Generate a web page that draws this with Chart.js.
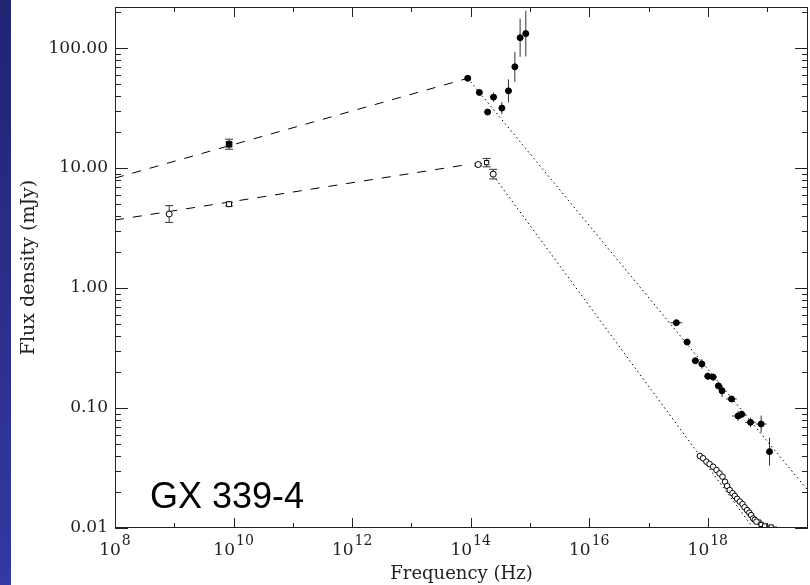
<!DOCTYPE html>
<html>
<head>
<meta charset="utf-8">
<script src="https://cdn.jsdelivr.net/npm/chart.js@4.4.0/dist/chart.umd.min.js"></script>
<style>
  html, body { margin: 0; padding: 0; background: #fff; }
  #wrap { position: relative; width: 810px; height: 585px; }
  #band { position: absolute; left: 0; top: 0; width: 11px; height: 585px; background: linear-gradient(#1f2473, #3439a3); }
  canvas { position: absolute; left: 0; top: 0; }
</style>
</head>
<body>
<div id="wrap"><canvas id="sed" width="810" height="585"></canvas><div id="band"></div></div>
<script>
// tick values
const yTicks = [0.01, 0.1, 1, 10, 100];
const xMajorExp = [8, 10, 12, 14, 16, 18];
const xMinorExp = [9, 11, 13, 15, 17, 19];

// radio, bright state (filled square)
const radioAFreq = [8.4e9];
const radioAFlux = [15.8];
const radioAErr = [0.042];

// radio, faint state (open circle / open square)
const radioBFreq = [8.2e8, 8.4e9];
const radioBFlux = [4.14, 5.0];
const radioBErr = [0.07, 0.015];

// IR / optical, bright state
const optAFreq = [8.91e13, 1.40e14, 1.93e14, 2.43e14, 3.36e14, 4.34e14, 5.56e14, 6.82e14, 8.51e14];
const optAFlux = [56, 42.7, 29.3, 39, 31.6, 44, 69.8, 122, 132];
const optAErr = [0.015, 0.015, 0.015, 0.038, 0.05, 0.096, 0.125, 0.16, 0.19];

// IR / optical, faint state
const optBFreq = [1.34e14, 1.86e14, 2.40e14];
const optBFlux = [10.7, 11.1, 8.9];
const optBErr = [0.01, 0.035, 0.04];

// X-ray, bright state (errors in dex)
const xrayAFreq = [2.95e17, 4.47e17, 6.17e17, 7.94e17, 1.0e18, 1.23e18, 1.51e18, 1.74e18, 2.51e18, 3.24e18, 3.72e18, 5.25e18, 7.94e18, 1.10e19];
const xrayAFlux = [0.514, 0.355, 0.248, 0.233, 0.184, 0.181, 0.153, 0.139, 0.119, 0.0858, 0.0887, 0.076, 0.0736, 0.0433];
const xrayAFreqErr = [0.10, 0.06, 0.06, 0.05, 0.06, 0.06, 0.05, 0.05, 0.09, 0.10, 0.08, 0.09, 0.09, 0.04];
const xrayAFluxErr = [0.02, 0.02, 0.02, 0.04, 0.03, 0.03, 0.03, 0.05, 0.02, 0.04, 0.03, 0.04, 0.07, 0.117];

// X-ray, faint state
const xrayBFreq = [7.33e17, 8.32e17, 9.48e17, 1.07e18, 1.23e18, 1.40e18, 1.58e18, 1.77e18, 1.95e18, 2.12e18, 2.34e18, 2.61e18, 2.85e18, 3.12e18, 3.47e18, 3.85e18, 4.17e18, 4.60e18, 5.01e18, 5.37e18, 5.82e18, 6.21e18, 6.61e18];
const xrayBFlux = [0.0398, 0.0381, 0.0357, 0.0341, 0.0324, 0.0304, 0.0285, 0.0268, 0.0243, 0.0224, 0.0207, 0.0195, 0.0185, 0.0175, 0.0166, 0.0158, 0.0149, 0.0141, 0.0134, 0.0128, 0.0120, 0.0117, 0.0113];
const xrayCFreq = [7.24e18, 7.94e18, 9.12e18, 1.17e19];
const xrayCFlux = [0.0112, 0.0107, 0.0104, 0.0102];
const xrayCFreqErr = [0.06, 0.05, 0.08, 0.10];

// model power laws
const fitARadioFreq = [1e8, 8.91e13];
const fitARadioFlux = [8.25, 56];
const fitAThinFreq = [8.91e13, 4.9e19];
const fitAThinFlux = [56, 0.0205];
const fitBRadioFreq = [1e8, 8.91e13];
const fitBRadioFlux = [3.69, 10.7];
const fitBThinFreq = [2.40e14, 6.3e18];
const fitBThinFlux = [8.65, 0.0095];

const serif = 'DejaVu Serif';
const ink = '#222';

const pts = (f, v) => f.map((x, i) => ({ x: x, y: v[i] }));

const marker = (data, style, radius, fill) => ({
    data: data, pointStyle: style, pointRadius: radius, pointBorderWidth: 1,
    backgroundColor: fill, borderColor: '#000', showLine: false, order: 0
});
const fitLine = (data, dash) => ({
    data: data, showLine: true, borderColor: '#000', borderWidth: 1,
    borderDash: dash, pointRadius: 0, order: 5
});

// [freq, flux, freqErr(dex), fluxErr(dex), cap]
const errorSets = [
    [radioAFreq, radioAFlux, null, radioAErr, 4],
    [radioBFreq, radioBFlux, null, radioBErr, 4],
    [optAFreq, optAFlux, null, optAErr, 0],
    [optBFreq, optBFlux, null, optBErr, 4],
    [xrayAFreq, xrayAFlux, xrayAFreqErr, xrayAFluxErr, 0],
    [xrayCFreq, xrayCFlux, xrayCFreqErr, null, 0]
];

const errorBars = {
    id: 'errorBars',
    beforeDatasetsDraw(chart) {
        const { ctx, chartArea: a, scales: { x, y } } = chart;
        ctx.save();
        ctx.beginPath();
        ctx.rect(a.left, a.top, a.right - a.left, a.bottom - a.top);
        ctx.clip();
        ctx.strokeStyle = '#333';
        ctx.lineWidth = 1;
        errorSets.forEach(([f, v, fe, ve, cap]) => {
            f.forEach((fx, i) => {
                const px = x.getPixelForValue(fx);
                const py = y.getPixelForValue(v[i]);
                ctx.beginPath();
                if (ve && ve[i]) {
                    const y1 = y.getPixelForValue(v[i] * Math.pow(10, ve[i]));
                    const y2 = y.getPixelForValue(v[i] / Math.pow(10, ve[i]));
                    ctx.moveTo(px, y1); ctx.lineTo(px, y2);
                    if (cap) {
                        ctx.moveTo(px - cap, y1); ctx.lineTo(px + cap, y1);
                        ctx.moveTo(px - cap, y2); ctx.lineTo(px + cap, y2);
                    }
                }
                if (fe && fe[i]) {
                    const x1 = x.getPixelForValue(fx / Math.pow(10, fe[i]));
                    const x2 = x.getPixelForValue(fx * Math.pow(10, fe[i]));
                    ctx.moveTo(x1, py); ctx.lineTo(x2, py);
                }
                ctx.stroke();
            });
        });
        ctx.restore();
    }
};

const frame = {
    id: 'frame',
    afterDraw(chart) {
        const { ctx, chartArea: a, scales: { x, y } } = chart;
        ctx.save();
        ctx.strokeStyle = ink;
        ctx.lineWidth = 1;
        const seg = (x1, y1, x2, y2) => { ctx.beginPath(); ctx.moveTo(x1, y1); ctx.lineTo(x2, y2); ctx.stroke(); };
        ctx.strokeRect(a.left + 0.5, a.top + 0.5, a.right - a.left - 1, a.bottom - a.top - 1);

        // x ticks, inward on bottom and top
        xMajorExp.concat(xMinorExp).forEach(e => {
            const px = Math.round(x.getPixelForValue(Math.pow(10, e))) + 0.5;
            if (px > a.right) return;
            const len = e % 2 === 0 ? 10 : 5;
            seg(px, a.bottom, px, a.bottom - len);
            seg(px, a.top, px, a.top + len);
        });
        // y ticks, inward on left and right
        for (let d = -2; d <= 2; d++) {
            for (let k = 1; k <= 9; k++) {
                const v = k * Math.pow(10, d);
                if (v > y.max) break;
                const py = Math.round(y.getPixelForValue(v)) + 0.5;
                const len = k === 1 ? 13 : 6;
                seg(a.left, py, a.left + len, py);
                seg(a.right, py, a.right - len, py);
            }
        }

        // x tick labels: 10 with superscript exponent
        ctx.fillStyle = ink;
        ctx.textBaseline = 'alphabetic';
        ctx.textAlign = 'left';
        const baseFont = '17px "' + serif + '"';
        const supFont = '14px "' + serif + '"';
        xMajorExp.forEach(e => {
            const px = x.getPixelForValue(Math.pow(10, e));
            ctx.font = baseFont;
            const wb = ctx.measureText('10').width;
            ctx.font = supFont;
            const ws = ctx.measureText(String(e)).width;
            const left = px - (wb + ws + 1) / 2;
            ctx.font = baseFont;
            ctx.fillText('10', left, 555);
            ctx.font = supFont;
            ctx.fillText(String(e), left + wb + 1, 545);
        });

        // source name
        ctx.font = '36px "Liberation Sans"';
        ctx.fillStyle = '#000';
        ctx.fillText('GX 339-4', 150, 508);
        ctx.restore();
    }
};

new Chart(document.getElementById('sed'), {
    type: 'scatter',
    data: {
        datasets: [
            marker(pts(radioAFreq, radioAFlux), 'rect', 4, '#000'),
            marker(pts(radioBFreq, radioBFlux), ['circle', 'rect'], [3, 3.5], '#fff'),
            marker(pts(optAFreq, optAFlux), 'circle', 3, '#000'),
            marker(pts(optBFreq, optBFlux), ['circle', 'rect', 'circle'], [3, 3, 3], '#fff'),
            marker(pts(xrayAFreq, xrayAFlux), 'circle', 3, '#000'),
            marker(pts(xrayBFreq, xrayBFlux), 'circle', 2.8, '#fff'),
            marker(pts(xrayCFreq, xrayCFlux), 'rect', 3, '#fff'),
            fitLine(pts(fitARadioFreq, fitARadioFlux), [9, 9]),
            fitLine(pts(fitBRadioFreq, fitBRadioFlux), [9, 9]),
            fitLine(pts(fitAThinFreq, fitAThinFlux), [1.5, 3]),
            fitLine(pts(fitBThinFreq, fitBThinFlux), [1.5, 3])
        ]
    },
    options: {
        responsive: false,
        animation: false,
        devicePixelRatio: 1,
        layout: { autoPadding: false, padding: { top: 7, right: 2, left: 0, bottom: 0 } },
        plugins: { legend: { display: false }, tooltip: { enabled: false } },
        events: [],
        scales: {
            x: {
                type: 'logarithmic', min: 1e8, max: 4.9e19,
                afterFit: s => { s.height = 57; s.paddingLeft = 0; s.paddingRight = 0; },
                grid: { display: false, drawTicks: false },
                border: { display: false },
                ticks: { display: false },
                title: { display: true, text: 'Frequency (Hz)', color: ink, font: { family: serif, size: 18 }, padding: { top: 0, bottom: 0 } }
            },
            y: {
                type: 'logarithmic', min: 0.01, max: 220,
                afterBuildTicks: s => { s.ticks = yTicks.map(v => ({ value: v })); },
                afterFit: s => { s.width = 115; s.paddingTop = 0; s.paddingBottom = 0; },
                grid: { display: false, drawTicks: false },
                border: { display: false },
                ticks: { autoSkip: false, padding: 7, color: ink, font: { family: serif, size: 17 }, callback: v => Number(v).toFixed(2) },
                title: { display: true, text: 'Flux density (mJy)', color: ink, font: { family: serif, size: 19 }, padding: { top: 18, bottom: 0 } }
            }
        }
    },
    plugins: [errorBars, frame]
});
</script>
</body>
</html>
